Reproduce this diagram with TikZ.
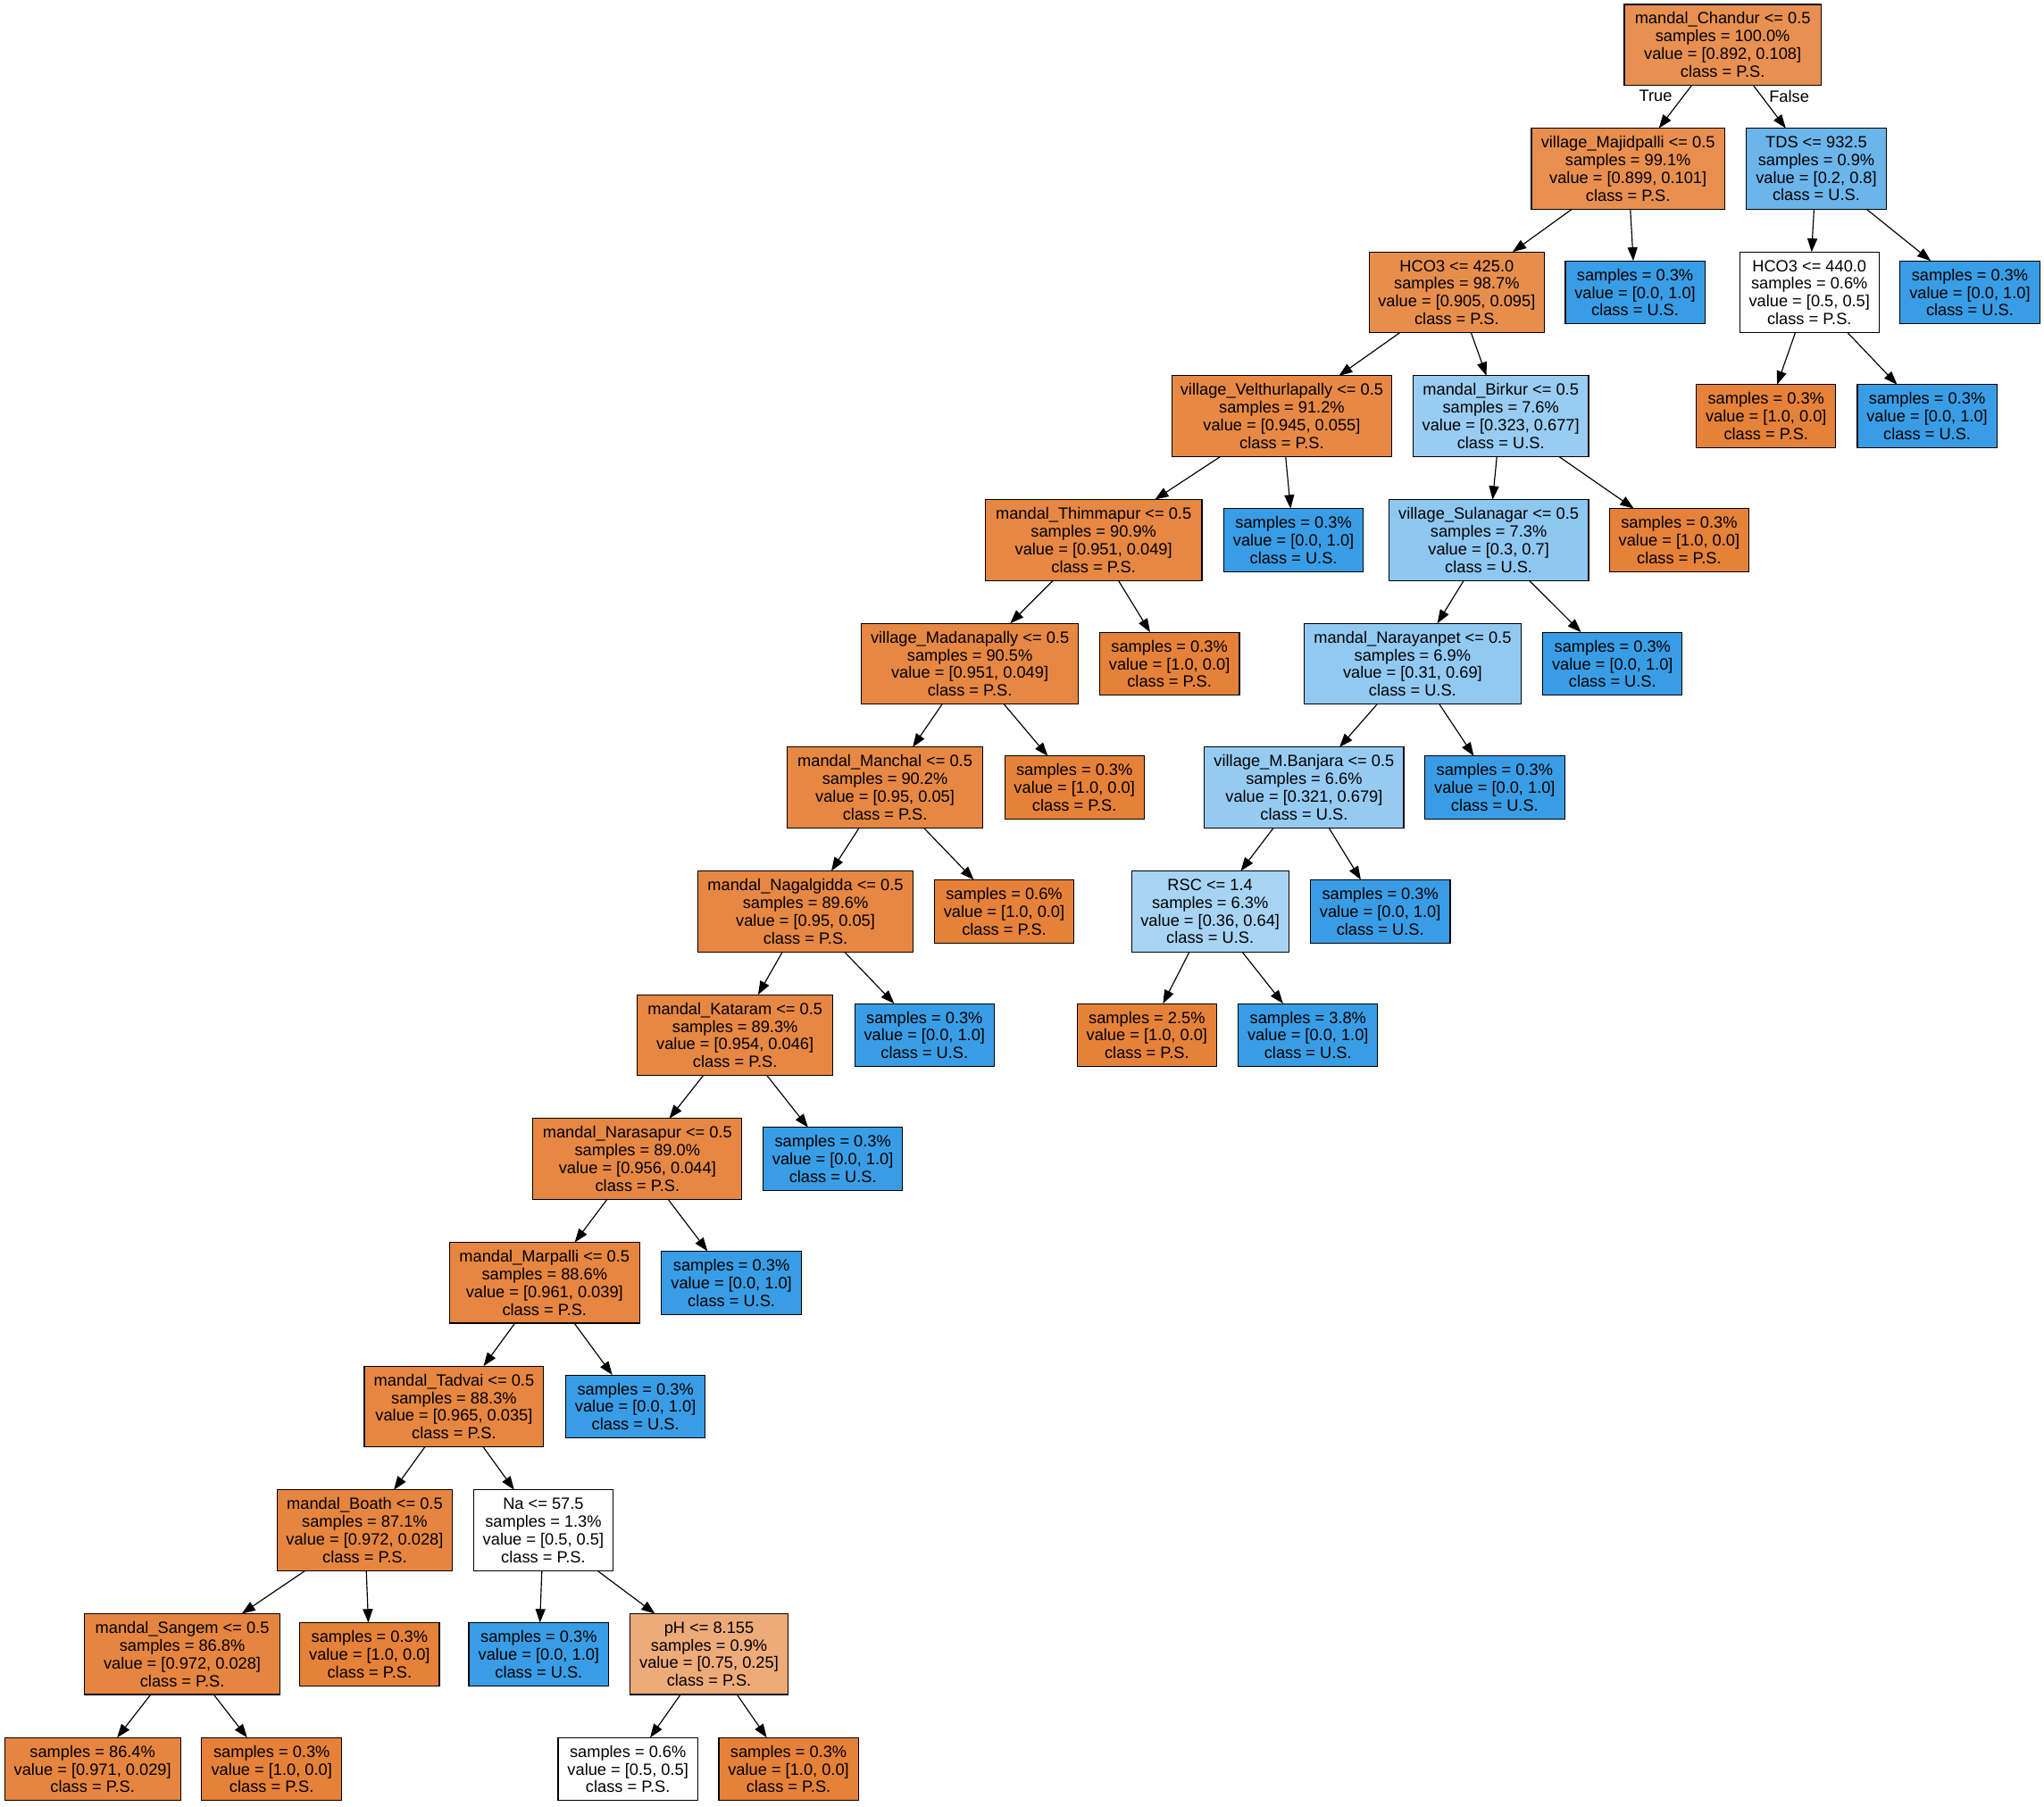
\documentclass[tikz,border=0pt]{standalone}
\usepackage{fontspec}
\setmainfont{Liberation Sans}
\usetikzlibrary{arrows.meta}
\definecolor{PS}{RGB}{229,129,57}
\definecolor{US}{RGB}{57,157,229}
\begin{document}
\begin{tikzpicture}[x=1pt,y=-1pt,
  dtbox/.style={draw=black, line width=0.75pt, rectangle, inner sep=0pt, outer sep=0pt, align=center, minimum height=62pt, font=\fontsize{12.5}{13.6}\selectfont},
  dtleaf/.style={dtbox, minimum height=48.4pt},
  dtedge/.style={draw=black, line width=0.8pt, -{Triangle[length=10.4pt,width=7.6pt]}},
  dtlab/.style={font=\fontsize{12.5}{13.6}\selectfont, inner sep=0pt}]
\useasboundingbox (0,0) rectangle (1568,1385.8);
% rank 0
\node[dtbox, minimum width=151pt, fill=PS!88] (n0) at (1321.5,34.4) {mandal\_Chandur <= 0.5\\samples = 100.0\%\\value = [0.892, 0.108]\\class = P.S.};
% rank 1
\node[dtbox, minimum width=148.2pt, fill=PS!89] (n1) at (1248.9,129.38) {village\_Majidpalli <= 0.5\\samples = 99.1\%\\value = [0.899, 0.101]\\class = P.S.};
\node[dtbox, minimum width=107pt, fill=US!75] (n2) at (1393.3,129.38) {TDS <= 932.5\\samples = 0.9\%\\value = [0.2, 0.8]\\class = U.S.};
% rank 2
\node[dtbox, minimum width=134.6pt, fill=PS!90] (n3) at (1117.5,224.36) {HCO3 <= 425.0\\samples = 98.7\%\\value = [0.905, 0.095]\\class = P.S.};
\node[dtleaf, minimum width=107pt, fill=US] (n4) at (1254.3,224.36) {samples = 0.3\%\\value = [0.0, 1.0]\\class = U.S.};
\node[dtbox, minimum width=107pt, fill=white] (n5) at (1388,224.36) {HCO3 <= 440.0\\samples = 0.6\%\\value = [0.5, 0.5]\\class = P.S.};
\node[dtleaf, minimum width=107pt, fill=US] (n6) at (1511.1,224.36) {samples = 0.3\%\\value = [0.0, 1.0]\\class = U.S.};
% rank 3
\node[dtbox, minimum width=168.6pt, fill=PS!94] (n7) at (983.3,319.34) {village\_Velthurlapally <= 0.5\\samples = 91.2\%\\value = [0.945, 0.055]\\class = P.S.};
\node[dtbox, minimum width=134.7pt, fill=US!52] (n8) at (1151.3,319.34) {mandal\_Birkur <= 0.5\\samples = 7.6\%\\value = [0.323, 0.677]\\class = U.S.};
\node[dtleaf, minimum width=107pt, fill=PS] (n9) at (1354.8,319.34) {samples = 0.3\%\\value = [1.0, 0.0]\\class = P.S.};
\node[dtleaf, minimum width=107pt, fill=US] (n10) at (1478.3,319.34) {samples = 0.3\%\\value = [0.0, 1.0]\\class = U.S.};
% rank 4
\node[dtbox, minimum width=166.3pt, fill=PS!95] (n11) at (838.9,414.32) {mandal\_Thimmapur <= 0.5\\samples = 90.9\%\\value = [0.951, 0.049]\\class = P.S.};
\node[dtleaf, minimum width=107pt, fill=US] (n12) at (992.3,414.32) {samples = 0.3\%\\value = [0.0, 1.0]\\class = U.S.};
\node[dtbox, minimum width=153.3pt, fill=US!57] (n13) at (1142,414.32) {village\_Sulanagar <= 0.5\\samples = 7.3\%\\value = [0.3, 0.7]\\class = U.S.};
\node[dtleaf, minimum width=107pt, fill=PS] (n14) at (1288.1,414.32) {samples = 0.3\%\\value = [1.0, 0.0]\\class = P.S.};
% rank 5
\node[dtbox, minimum width=166.3pt, fill=PS!95] (n15) at (744,509.3) {village\_Madanapally <= 0.5\\samples = 90.5\%\\value = [0.951, 0.049]\\class = P.S.};
\node[dtleaf, minimum width=107.4pt, fill=PS] (n16) at (897.1,509.3) {samples = 0.3\%\\value = [1.0, 0.0]\\class = P.S.};
\node[dtbox, minimum width=166.7pt, fill=US!55] (n17) at (1083.6,509.3) {mandal\_Narayanpet <= 0.5\\samples = 6.9\%\\value = [0.31, 0.69]\\class = U.S.};
\node[dtleaf, minimum width=107pt, fill=US] (n18) at (1237,509.3) {samples = 0.3\%\\value = [0.0, 1.0]\\class = U.S.};
% rank 6
\node[dtbox, minimum width=149.8pt, fill=PS!95] (n19) at (678.9,604.28) {mandal\_Manchal <= 0.5\\samples = 90.2\%\\value = [0.95, 0.05]\\class = P.S.};
\node[dtleaf, minimum width=107pt, fill=PS] (n20) at (824.2,604.28) {samples = 0.3\%\\value = [1.0, 0.0]\\class = P.S.};
\node[dtbox, minimum width=152.8pt, fill=US!53] (n21) at (1000.4,604.28) {village\_M.Banjara <= 0.5\\samples = 6.6\%\\value = [0.321, 0.679]\\class = U.S.};
\node[dtleaf, minimum width=107.3pt, fill=US] (n22) at (1146.6,604.28) {samples = 0.3\%\\value = [0.0, 1.0]\\class = U.S.};
% rank 7
\node[dtbox, minimum width=164.8pt, fill=PS!95] (n23) at (617.9,699.26) {mandal\_Nagalgidda <= 0.5\\samples = 89.6\%\\value = [0.95, 0.05]\\class = P.S.};
\node[dtleaf, minimum width=107.1pt, fill=PS] (n24) at (770.3,699.26) {samples = 0.6\%\\value = [1.0, 0.0]\\class = P.S.};
\node[dtbox, minimum width=120.7pt, fill=US!44] (n25) at (928.3,699.26) {RSC <= 1.4\\samples = 6.3\%\\value = [0.36, 0.64]\\class = U.S.};
\node[dtleaf, minimum width=107.3pt, fill=US] (n26) at (1058.8,699.26) {samples = 0.3\%\\value = [0.0, 1.0]\\class = U.S.};
% rank 8
\node[dtbox, minimum width=149.9pt, fill=PS!95] (n27) at (563.9,794.24) {mandal\_Kataram <= 0.5\\samples = 89.3\%\\value = [0.954, 0.046]\\class = P.S.};
\node[dtleaf, minimum width=107pt, fill=US] (n28) at (709.2,794.24) {samples = 0.3\%\\value = [0.0, 1.0]\\class = U.S.};
\node[dtleaf, minimum width=107.1pt, fill=PS] (n29) at (879.8,794.24) {samples = 2.5\%\\value = [1.0, 0.0]\\class = P.S.};
\node[dtleaf, minimum width=107pt, fill=US] (n30) at (1003.4,794.24) {samples = 3.8\%\\value = [0.0, 1.0]\\class = U.S.};
% rank 9
\node[dtbox, minimum width=160.2pt, fill=PS!95] (n31) at (489,889.22) {mandal\_Narasapur <= 0.5\\samples = 89.0\%\\value = [0.956, 0.044]\\class = P.S.};
\node[dtleaf, minimum width=107pt, fill=US] (n32) at (638.9,889.22) {samples = 0.3\%\\value = [0.0, 1.0]\\class = U.S.};
% rank 10
\node[dtbox, minimum width=146.2pt, fill=PS!96] (n33) at (417.7,984.2) {mandal\_Marpalli <= 0.5\\samples = 88.6\%\\value = [0.961, 0.039]\\class = P.S.};
\node[dtleaf, minimum width=107.1pt, fill=US] (n34) at (561.1,984.2) {samples = 0.3\%\\value = [0.0, 1.0]\\class = U.S.};
% rank 11
\node[dtbox, minimum width=137.6pt, fill=PS!96] (n35) at (348.3,1079.18) {mandal\_Tadvai <= 0.5\\samples = 88.3\%\\value = [0.965, 0.035]\\class = P.S.};
\node[dtleaf, minimum width=107pt, fill=US] (n36) at (487.5,1079.18) {samples = 0.3\%\\value = [0.0, 1.0]\\class = U.S.};
% rank 12
\node[dtbox, minimum width=134.6pt, fill=PS!97] (n37) at (279.8,1174.16) {mandal\_Boath <= 0.5\\samples = 87.1\%\\value = [0.972, 0.028]\\class = P.S.};
\node[dtbox, minimum width=107pt, fill=white] (n38) at (416.8,1174.16) {Na <= 57.5\\samples = 1.3\%\\value = [0.5, 0.5]\\class = P.S.};
% rank 13
\node[dtbox, minimum width=149.9pt, fill=PS!97] (n39) at (139.8,1269.14) {mandal\_Sangem <= 0.5\\samples = 86.8\%\\value = [0.972, 0.028]\\class = P.S.};
\node[dtleaf, minimum width=107pt, fill=PS] (n40) at (283.5,1269.14) {samples = 0.3\%\\value = [1.0, 0.0]\\class = P.S.};
\node[dtleaf, minimum width=107.4pt, fill=US] (n41) at (413.3,1269.14) {samples = 0.3\%\\value = [0.0, 1.0]\\class = U.S.};
\node[dtbox, minimum width=121.4pt, fill=PS!67] (n42) at (543.9,1269.14) {pH <= 8.155\\samples = 0.9\%\\value = [0.75, 0.25]\\class = P.S.};
% rank 14
\node[dtleaf, minimum width=135pt, fill=PS!97] (n43) at (71,1357.4) {samples = 86.4\%\\value = [0.971, 0.029]\\class = P.S.};
\node[dtleaf, minimum width=107.3pt, fill=PS] (n44) at (208.4,1357.4) {samples = 0.3\%\\value = [1.0, 0.0]\\class = P.S.};
\node[dtleaf, minimum width=107.1pt, fill=white] (n45) at (481.7,1357.4) {samples = 0.6\%\\value = [0.5, 0.5]\\class = P.S.};
\node[dtleaf, minimum width=107pt, fill=PS] (n46) at (604.9,1357.4) {samples = 0.3\%\\value = [1.0, 0.0]\\class = P.S.};
% edges
\foreach \p/\c in {n0/n1,n0/n2,n1/n3,n1/n4,n2/n5,n2/n6,n3/n7,n3/n8,n5/n9,n5/n10,
  n7/n11,n7/n12,n8/n13,n8/n14,n11/n15,n11/n16,n13/n17,n13/n18,n15/n19,n15/n20,
  n17/n21,n17/n22,n19/n23,n19/n24,n21/n25,n21/n26,n23/n27,n23/n28,n25/n29,n25/n30,
  n27/n31,n27/n32,n31/n33,n31/n34,n33/n35,n33/n36,n35/n37,n35/n38,n37/n39,n37/n40,
  n38/n41,n38/n42,n39/n43,n39/n44,n42/n45,n42/n46}
  \draw[dtedge] (\p) -- (\c);
\node[dtlab] (ltrue) at (1270,73.8) {True};
\node[dtlab] (lfalse) at (1372.5,73.8) {False};
\end{tikzpicture}
\end{document}
